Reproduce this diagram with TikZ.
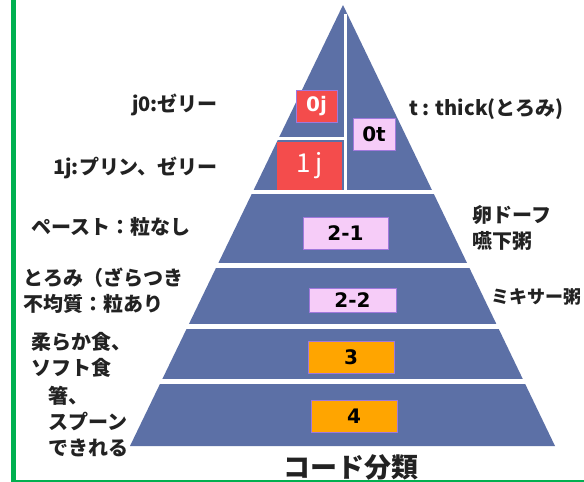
\documentclass[tikz,border=0pt]{standalone}
\usepackage{fontspec}
\setmainfont{Noto Sans CJK JP}
\newfontfamily\numfont{DejaVu Sans}
\definecolor{pyr}{RGB}{92,112,166}
\definecolor{redbox}{RGB}{244,76,76}
\definecolor{pinkbox}{RGB}{246,204,248}
\definecolor{orangebox}{RGB}{255,165,0}
\definecolor{boxline}{RGB}{160,120,220}
\definecolor{frame}{RGB}{0,176,80}
\definecolor{ink}{RGB}{34,34,34}
\tikzset{
  lbl/.style={text=ink, font=\fontsize{20}{26}\selectfont\bfseries, inner sep=0pt, align=left},
  code/.style={draw=boxline, line width=0.8pt, inner sep=0pt, text=black, font=\numfont\fontsize{20}{22}\selectfont\bfseries},
  gap/.style={fill=white}
}
\begin{document}
\begin{tikzpicture}[x=1pt,y=-1pt]
\useasboundingbox (0,0) rectangle (584,482);
\fill[white] (0,0) rectangle (584,482);
% frame
\draw[frame, line width=5pt] (13,0) -- (13,482);
\draw[frame, line width=1.2pt] (11,481) -- (584,481);
% pyramid
\fill[pyr] (343,5) -- (555,446) -- (130,446) -- cycle;
\fill[gap] (100,189.5) rectangle (600,193.5);
\fill[gap] (100,263) rectangle (600,267.5);
\fill[gap] (100,324) rectangle (600,328.5);
\fill[gap] (100,379) rectangle (600,383.5);
\fill[gap] (260,136.5) rectangle (346,140);
\fill[gap] (343.5,14) rectangle (347,190);
% code boxes
\node[code, fill=redbox, text=white, minimum width=41pt, minimum height=32pt] (b0j) at (316.5,106) {0j};
\node[code, fill=pinkbox, minimum width=42pt, minimum height=32pt] (b0t) at (374,134) {0t};
\node[fill=redbox, draw=none, inner sep=0pt, minimum width=65pt, minimum height=48pt, text=white, font=\fontsize{26}{30}\selectfont] (b1j) at (309.5,166) {1\,j};
\node[code, fill=pinkbox, minimum width=85pt, minimum height=32pt] (b21) at (345.5,233) {2-1};
\node[code, fill=pinkbox, minimum width=87pt, minimum height=24pt] (b22) at (352.5,300) {2-2};
\node[code, fill=orangebox, minimum width=86pt, minimum height=32pt] (b3) at (351,357) {3};
\node[code, fill=orangebox, minimum width=86pt, minimum height=32pt] (b4) at (354,416) {4};
% labels
\node[lbl, anchor=east] (lj0) at (218,105) {j0:ゼリー};
\node[lbl, anchor=east] (l1j) at (218,168) {1j:プリン、ゼリー};
\node[lbl, anchor=west] (lt) at (409,109) {t : thick(とろみ)};
\node[lbl, anchor=west] (lpaste) at (31,227) {ペースト：粒なし};
\node[lbl, anchor=west] (ltoromi) at (23,291) {とろみ（ざらつき\\不均質：粒あり};
\node[lbl, anchor=west] (lsoft) at (31,355) {柔らか食、\\ソフト食};
\node[lbl, anchor=west] (lhashi) at (48,422) {箸、\\スプーン\\できれる};
\node[lbl, anchor=west] (ltamago) at (472,228) {卵ドーフ\\嚥下粥};
\node[lbl, anchor=west, font=\fontsize{18}{22}\selectfont\bfseries] (lmixer) at (491,297) {ミキサー粥};
\node[text=ink, font=\fontsize{27}{30}\selectfont\bfseries, inner sep=0pt] (title) at (351,467) {コード分類};
\end{tikzpicture}
\end{document}
